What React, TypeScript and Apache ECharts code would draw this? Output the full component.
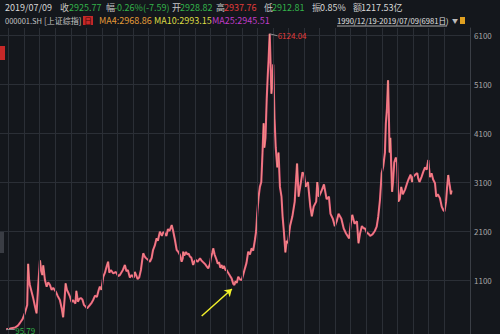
import React, { useEffect, useRef } from 'react';
import * as echarts from 'echarts';

// Shanghai Composite (000001.SH), 1990/12/19 - 2019/07/09, positions as decimal years
const years = [
  1990.85, 1991.1, 1991.41, 1991.6, 1991.73, 1991.9, 1992.05, 1992.2, 1992.26, 1992.32, 1992.37, 1992.48, 1992.57, 1992.7, 1992.8, 1992.89,
  1993.02, 1993.1, 1993.17, 1993.23, 1993.34, 1993.45, 1993.55, 1993.66, 1993.77, 1993.87, 1994.04, 1994.15, 1994.3, 1994.42, 1994.51, 1994.6,
  1994.67, 1994.75, 1994.82, 1994.95, 1995.05, 1995.14, 1995.3, 1995.36, 1995.46, 1995.56, 1995.65, 1995.75, 1995.85, 1995.95, 1996.05, 1996.23,
  1996.35, 1996.44, 1996.56, 1996.68, 1996.8, 1996.87, 1996.97, 1997.09, 1997.2, 1997.3, 1997.4, 1997.48, 1997.58, 1997.73, 1997.9, 1998.05,
  1998.16, 1998.35, 1998.48, 1998.58, 1998.67, 1998.8, 1998.91, 1999.05, 1999.12, 1999.3, 1999.4, 1999.51, 1999.6, 1999.66, 1999.75, 1999.83,
  1999.98, 2000.09, 2000.2, 2000.29, 2000.4, 2000.52, 2000.6, 2000.73, 2000.86, 2000.95, 2001.05, 2001.15, 2001.25, 2001.35, 2001.49, 2001.57,
  2001.7, 2001.81, 2001.91, 2002.02, 2002.13, 2002.2, 2002.23, 2002.3, 2002.41, 2002.5, 2002.58, 2002.66, 2002.75, 2002.87, 2002.95, 2003.05,
  2003.15, 2003.31, 2003.4, 2003.5, 2003.63, 2003.74, 2003.84, 2003.95, 2004.01, 2004.1, 2004.16, 2004.25, 2004.38, 2004.45, 2004.53, 2004.62,
  2004.7, 2004.78, 2004.85, 2004.95, 2005.02, 2005.1, 2005.17, 2005.25, 2005.34, 2005.45, 2005.52, 2005.6, 2005.67, 2005.77, 2005.88, 2005.99,
  2006.08, 2006.2, 2006.3, 2006.41, 2006.52, 2006.63, 2006.73, 2006.84, 2006.92, 2006.99, 2007.08, 2007.16, 2007.25, 2007.33, 2007.4, 2007.45,
  2007.52, 2007.6, 2007.67, 2007.72, 2007.79, 2007.85, 2007.9, 2007.96, 2008.02, 2008.1, 2008.18, 2008.28, 2008.36, 2008.45, 2008.55, 2008.62,
  2008.7, 2008.8, 2008.88, 2008.96, 2009.1, 2009.25, 2009.4, 2009.55, 2009.65, 2009.75, 2009.9, 2010.0, 2010.1, 2010.25, 2010.4, 2010.5,
  2010.62, 2010.78, 2010.85, 2010.95, 2011.1, 2011.28, 2011.45, 2011.6, 2011.7, 2011.85, 2011.98, 2012.1, 2012.22, 2012.4, 2012.55, 2012.7,
  2012.9, 2013.0, 2013.1, 2013.25, 2013.4, 2013.5, 2013.6, 2013.72, 2013.85, 2013.92, 2014.05, 2014.13, 2014.25, 2014.4, 2014.55, 2014.67,
  2014.77, 2014.88, 2014.99, 2015.09, 2015.2, 2015.26, 2015.33, 2015.4, 2015.45, 2015.5, 2015.55, 2015.6, 2015.66, 2015.72, 2015.8, 2015.9,
  2015.98, 2016.06, 2016.15, 2016.25, 2016.35, 2016.5, 2016.6, 2016.7, 2016.85, 2016.95, 2017.02, 2017.15, 2017.28, 2017.34, 2017.42, 2017.55,
  2017.67, 2017.78, 2017.88, 2017.99, 2018.03, 2018.1, 2018.2, 2018.3, 2018.42, 2018.5, 2018.6, 2018.74, 2018.85, 2018.95, 2019.03, 2019.13,
  2019.2, 2019.27, 2019.33, 2019.38, 2019.44, 2019.49,
];
const closes = [
  95.79, 110, 130, 170, 222, 300, 426, 590, 1429, 1100, 998, 860, 750, 560, 420, 900,
  1500, 1300, 1200, 1400, 1100, 963, 1050, 1000, 900, 940, 860, 780, 690, 520, 340, 700,
  1032, 900, 855, 759, 650, 690, 620, 880, 657, 720, 730, 700, 590, 560, 522, 590,
  640, 692, 780, 753, 900, 963, 900, 1167, 1250, 1371, 1473, 1250, 1304, 1236, 1263, 1180,
  1202, 1304, 1406, 1280, 1304, 1150, 1202, 1150, 1263, 1120, 1150, 1304, 1520, 1645, 1580, 1549,
  1508, 1473, 1550, 1712, 1800, 1951, 1900, 2086, 2000, 2080, 2053, 2000, 2140, 2100, 2222, 2120,
  1916, 1712, 1678, 1610, 1473, 1540, 1678, 1600, 1671, 1620, 1640, 1576, 1560, 1406, 1480, 1508,
  1470, 1542, 1500, 1467, 1427, 1380, 1338, 1430, 1549, 1650, 1746, 1620, 1508, 1430, 1467, 1350,
  1406, 1330, 1386, 1300, 1304, 1260, 1222, 1180, 1134, 1020, 1000, 1080, 1040, 1167, 1110, 1100,
  1200, 1338, 1450, 1678, 1620, 1746, 1700, 1916, 2100, 2461, 2800, 3000, 3100, 3700, 4300, 3800,
  4000, 4800, 5300, 5600, 6124.04, 5500, 4900, 5200, 5500, 4400, 3800, 3400, 3700, 3000, 2800, 2400,
  2100, 1664, 1900, 1850, 2200, 2400, 2700, 3478, 2800, 3000, 3300, 3250, 3000, 3100, 2600, 2400,
  2600, 2700, 3100, 2800, 2900, 3050, 2750, 2800, 2450, 2350, 2200, 2300, 2450, 2350, 2150, 2050,
  1950, 2250, 2430, 2250, 2300, 1850, 2050, 2200, 2150, 2155, 2050, 2053, 2000, 2030, 2100, 2188,
  2392, 2733, 3278, 3414, 3700, 4300, 4600, 5178, 4500, 3700, 4000, 3500, 2900, 3100, 3500, 3600,
  3500, 2700, 2750, 3000, 2850, 2950, 3050, 3141, 3250, 3100, 3208, 3250, 3280, 3175, 3100, 3200,
  3310, 3400, 3350, 3549, 3400, 3200, 3278, 3150, 3074, 2800, 2850, 2767, 2600, 2529, 2500, 2698,
  3000, 3243, 3100, 3004, 2850, 2925.77,
];
const yTicks = [1100, 2100, 3100, 4100, 5100, 6100];
const yearLines = [
  1991, 1992, 1993, 1994, 1995, 1996, 1997, 1998, 1999, 2000, 2001, 2002, 2003, 2004, 2005,
  2006, 2007, 2008, 2009, 2010, 2011, 2012, 2013, 2014, 2015, 2016, 2017, 2018, 2019,
];
const peakIndex = 164;
const arrowFrom = [2003.42, 365];
const arrowTo = [2005.36, 916];

const X_MIN = 1990.45;
const X_MAX = 2020.67;
const FONT = '"Noto Sans CJK SC", "Noto Sans", sans-serif';
const GRID_COLOR = '#2b2f36';

export default function App() {
  const ref = useRef<HTMLDivElement>(null);
  useEffect(() => {
    const chart = echarts.init(ref.current!, null, { renderer: 'svg' });
    const data = years.map((y, i) => [y, closes[i]]);
    const peak = data[peakIndex];
    const first = data[0];

    const txt = (x: number, y: number, text: string, fill: string, size = 9) => ({
      type: 'text', x, y, silent: true,
      style: { text, fill, fontSize: size, fontFamily: FONT, verticalAlign: 'middle', align: 'left' },
    });
    const L1 = 7, L2 = 20.5;
    const grey = '#c4c4c4', green = '#33b24a', red = '#e23b3b', white = '#d8d8d8';

    const graphic: any[] = [
      txt(5, L1, '2019/07/09', white),
      txt(60, L1, '收', grey), txt(69, L1, '2925.77', green),
      txt(106, L1, '幅', grey), txt(114, L1, '-0.26%(-7.59)', green),
      txt(172, L1, '开', grey), txt(180, L1, '2928.82', green),
      txt(216, L1, '高', grey), txt(224, L1, '2937.76', red),
      txt(264, L1, '低', grey), txt(272, L1, '2912.81', green),
      txt(312, L1, '振', grey), txt(320, L1, '0.85%', white),
      txt(353, L1, '额', grey), txt(361, L1, '1217.53亿', white),
      txt(5, L2, '000001.SH', grey, 7.5),
      txt(44, L2, '[上证综指]', grey, 8),
      { type: 'rect', shape: { x: 83, y: 16, width: 10, height: 9 }, style: { fill: '#c62828' }, silent: true },
      txt(84, L2, '日', '#3a0808', 8),
      txt(99, L2, 'MA4:2968.86', '#e39b38'),
      txt(154, L2, 'MA10:2993.15', '#dcdc44'),
      txt(212, L2, 'MA25:2945.51', '#c03cc8'),
      txt(337, L2, '1990/12/19-2019/07/09(6981日)', '#e2e2e2', 7.6),
      { type: 'line', shape: { x1: 337, y1: 26, x2: 447, y2: 26 }, style: { stroke: '#d0d0d0', lineWidth: 0.8 }, silent: true },
      txt(452, L2, '▼', '#bbbbbb', 6),
      { type: 'rect', shape: { x: 460, y: 17, width: 5, height: 7 }, style: { fill: '#e0a020' }, silent: true },
      { type: 'rect', shape: { x: 0, y: 46, width: 5, height: 14 }, style: { fill: '#c62828' }, silent: true },
      { type: 'rect', shape: { x: 0, y: 231, width: 4, height: 22 }, style: { fill: '#3a3d44' }, silent: true },
    ];

    const option: any = {
      animation: false,
      backgroundColor: '#14171c',
      graphic,
      grid: [
        { left: 0, right: 30, top: 28, bottom: 0 },
        { left: 0, right: 30, top: 28, bottom: 5 },
      ],
      xAxis: [
        { gridIndex: 0, type: 'value', min: X_MIN, max: X_MAX, show: false, splitLine: { show: false } },
        { gridIndex: 1, type: 'value', min: X_MIN, max: X_MAX, show: false, splitLine: { show: false } },
      ],
      yAxis: [
        {
          gridIndex: 0, type: 'value', min: 0, max: 1, position: 'right',
          axisLine: { show: true, lineStyle: { color: '#3a3e45', width: 1 } },
          axisTick: { show: false }, axisLabel: { show: false }, splitLine: { show: false },
        },
        {
          gridIndex: 1, type: 'value', min: 100, max: 6243, interval: 1000, position: 'right',
          axisLine: { show: false }, axisTick: { show: false },
          axisLabel: {
            color: '#a6a6a6', fontSize: 8, fontFamily: FONT, margin: 4,
            formatter: (v: number) => (yTicks.includes(v) ? String(v) : ''),
          },
          splitLine: { show: true, showMinLine: false, showMaxLine: false, lineStyle: { color: GRID_COLOR, width: 1 } },
        },
      ],
      series: [
        {
          type: 'line', xAxisIndex: 0, yAxisIndex: 0, data: [[X_MIN, 0]], showSymbol: false, silent: true,
          lineStyle: { opacity: 0 }, z: 1,
          markLine: {
            silent: true, symbol: ['none', 'none'], label: { show: false },
            lineStyle: { color: GRID_COLOR, width: 1, type: 'solid' },
            data: yearLines.map((y) => ({ xAxis: y })),
          },
        },
        {
          type: 'line', xAxisIndex: 1, yAxisIndex: 1, data, showSymbol: false, clip: false,
          lineStyle: { color: '#e8587c', width: 2.1 }, z: 3,
          markPoint: {
            silent: true, symbol: 'circle', symbolSize: 0,
            data: [
              { coord: peak, label: { show: true, position: 'right', distance: 8, offset: [0, 2], formatter: '6124.04', color: '#e23b3b', fontSize: 8, fontFamily: FONT } },
              { coord: [first[0], 100], label: { show: true, position: 'right', distance: 9, offset: [0, 1], formatter: '95.79', color: '#33b24a', fontSize: 8, fontFamily: FONT } },
            ],
          },
          markLine: {
            silent: true, symbol: ['none', 'none'], label: { show: false },
            data: [
              [
                { coord: peak, lineStyle: { color: '#8c8c8c', width: 1, type: 'solid' } },
                { coord: [peak[0] + 0.5, peak[1] - 40] },
              ],
              [
                { coord: [first[0], 100], lineStyle: { color: '#8c8c8c', width: 1, type: 'solid' } },
                { coord: [first[0] + 0.55, 100] },
              ],
              [
                { coord: arrowFrom, symbol: 'none', lineStyle: { color: '#f2f02a', width: 1.5, type: 'solid' } },
                { coord: arrowTo, symbol: 'arrow', symbolSize: 7 },
              ],
            ],
          },
        },
        {
          type: 'line', xAxisIndex: 1, yAxisIndex: 1, data, showSymbol: false, clip: false, silent: true,
          lineStyle: { color: '#f7c08c', width: 0.6, opacity: 0.75 }, z: 4,
        },
      ],
    };
    chart.setOption(option);
    return () => chart.dispose();
  }, []);
  return (
    <div
      ref={ref}
      style={{ position: 'fixed', left: 0, top: 0, width: 500, height: 334, background: '#14171c' }}
    />
  );
}
